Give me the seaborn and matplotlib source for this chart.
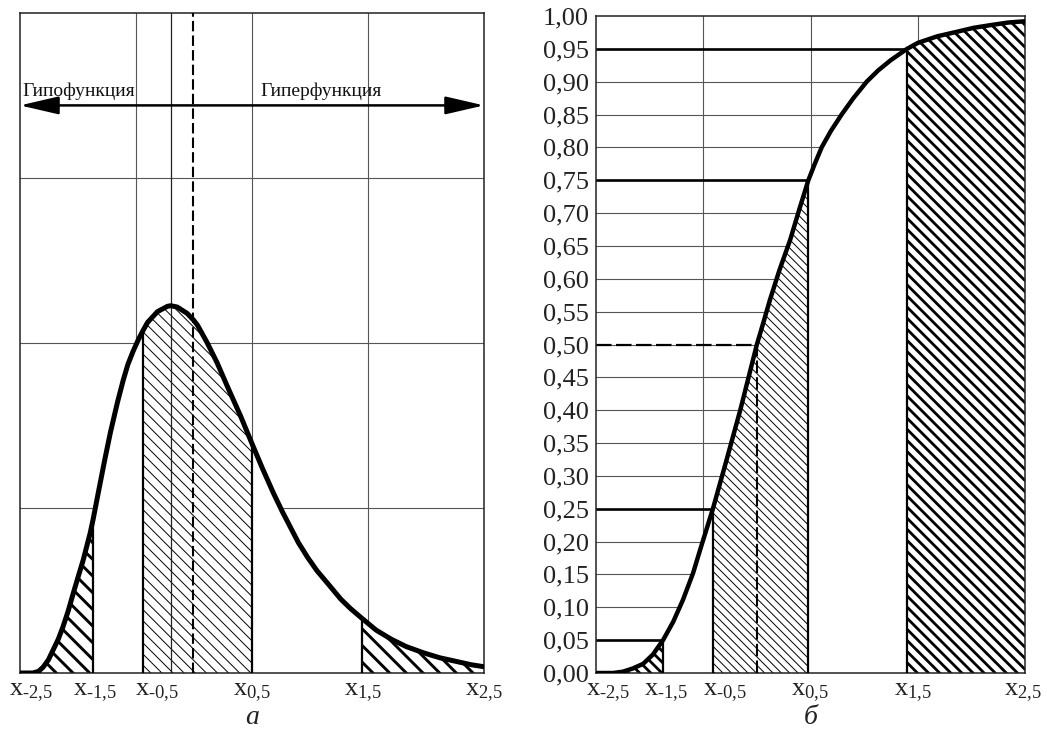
import numpy as np
import matplotlib
matplotlib.use("Agg")
import matplotlib.pyplot as plt
from matplotlib.transforms import ScaledTranslation
import seaborn as sns

# ---------------- data ----------------
# panel "а": probability density (x in grid-column units, y in grid-row units)
left_x = [0.00, 0.11, 0.16, 0.20, 0.245, 0.285, 0.33, 0.37, 0.415, 0.46, 0.50, 0.545,
          0.605, 0.63, 0.67, 0.73, 0.78, 0.84, 0.89, 0.93, 0.975, 1.02, 1.06, 1.10,
          1.185, 1.27, 1.30, 1.355, 1.44, 1.495, 1.53, 1.615, 1.70, 1.79, 1.90, 2.00,
          2.09, 2.185, 2.26, 2.33, 2.40, 2.48, 2.56, 2.65, 2.765, 2.85, 2.95, 3.07,
          3.20, 3.33, 3.48, 3.62, 3.775, 3.89, 4.00]
left_y = [0.000, 0.000, 0.010, 0.036, 0.080, 0.139, 0.205, 0.279, 0.375, 0.485, 0.580, 0.685,
          0.848, 0.930, 1.075, 1.290, 1.460, 1.640, 1.775, 1.870, 1.950, 2.020, 2.075, 2.125,
          2.190, 2.222, 2.226, 2.218, 2.180, 2.140, 2.108, 2.000, 1.879, 1.733, 1.560, 1.390,
          1.240, 1.090, 0.980, 0.885, 0.790, 0.700, 0.620, 0.545, 0.448, 0.390, 0.330, 0.260,
          0.205, 0.160, 0.122, 0.092, 0.068, 0.050, 0.038]

# panel "б": cumulative distribution
right_x = [0.00, 0.16, 0.25, 0.345, 0.44, 0.53, 0.625, 0.72, 0.81, 0.905, 0.97, 1.09,
           1.205, 1.345, 1.50, 1.567, 1.622, 1.71, 1.81, 1.90, 1.98, 2.04, 2.104, 2.19,
           2.29, 2.40, 2.524, 2.63, 2.75, 2.90, 3.00, 3.18, 3.366, 3.52, 3.675, 3.84, 4.00]
right_p = [0.000, 0.000, 0.002, 0.007, 0.014, 0.028, 0.050, 0.078, 0.111, 0.152, 0.187, 0.250,
           0.317, 0.400, 0.500, 0.537, 0.568, 0.613, 0.659, 0.708, 0.750, 0.775, 0.800, 0.825,
           0.850, 0.875, 0.900, 0.917, 0.933, 0.950, 0.959, 0.969, 0.976, 0.982, 0.986, 0.990,
           0.992]

# quantile positions (x_-2,5 ... x_2,5)
left_ticks = [0.00, 0.63, 1.06, 2.00, 2.95, 4.00]
right_ticks = [0.00, 0.625, 1.09, 1.98, 2.90, 4.00]
tick_labels = ["$\\mathrm{x}_{\u2010 2{,}5}$", "$\\mathrm{x}_{\u2010 1{,}5}$",
               "$\\mathrm{x}_{\u2010 0{,}5}$", "$\\mathrm{x}_{0{,}5}$",
               "$\\mathrm{x}_{1{,}5}$", "$\\mathrm{x}_{2{,}5}$"]
left_mode = 1.30
left_median = 1.495
right_median = 1.50
quantile_probs = [0.05, 0.25, 0.50, 0.75, 0.95]
thick_probs = [0.05, 0.25, 0.75, 0.95]

prob_ticks = [0.00, 0.05, 0.10, 0.15, 0.20, 0.25, 0.30, 0.35, 0.40, 0.45, 0.50,
              0.55, 0.60, 0.65, 0.70, 0.75, 0.80, 0.85, 0.90, 0.95, 1.00]
prob_labels = ["0,00", "0,05", "0,10", "0,15", "0,20", "0,25", "0,30", "0,35", "0,40",
               "0,45", "0,50", "0,55", "0,60", "0,65", "0,70", "0,75", "0,80", "0,85",
               "0,90", "0,95", "1,00"]
grid_cols = [1, 2, 3]
grid_rows_left = [1, 2, 3]

label_hypo = "Гипофункция"
label_hyper = "Гиперфункция"
caption_a = "а"
caption_b = "б"

# ---------------- style ----------------
sns.set_theme(style="white")
plt.rcParams["font.family"] = ["Liberation Serif", "DejaVu Serif"]
plt.rcParams["mathtext.fontset"] = "custom"
plt.rcParams["mathtext.rm"] = "Liberation Serif"
plt.rcParams["mathtext.it"] = "Liberation Serif:italic"
plt.rcParams["mathtext.bf"] = "Liberation Serif:bold"

W, H = 1047, 730
fig = plt.figure(figsize=(W / 100, H / 100), dpi=100)
fig.patch.set_facecolor("white")
axL = fig.add_axes([20 / W, (H - 673) / H, 464 / W, 660 / H])
axR = fig.add_axes([596 / W, (H - 673) / H, 429 / W, 657 / H])

GRID = "#555555"
SPINE = "#222222"


def hatched(ax, x, y, a, b, pattern, hlw, z=2):
    x = np.asarray(x)
    y = np.asarray(y)
    m = (x >= a - 1e-9) & (x <= b + 1e-9)
    with plt.rc_context({"hatch.linewidth": hlw, "hatch.color": "black"}):
        c = ax.fill_between(x[m], 0, y[m], facecolor="white", edgecolor="black",
                            hatch=pattern, linewidth=0, zorder=z)
    try:
        c.set_hatch_linewidth(hlw)
    except AttributeError:
        pass
    return c


for ax in (axL, axR):
    ax.set_facecolor("white")
    for s in ax.spines.values():
        s.set_visible(True)
        s.set_color(SPINE)
        s.set_linewidth(1.1)
    ax.tick_params(axis="both", length=0, labelsize=19, colors="#222222")

# ---------------- panel а ----------------
axL.set_xlim(0, 4)
axL.set_ylim(0, 4)
for gx in grid_cols:
    axL.axvline(gx, color=GRID, lw=0.8, zorder=0.8)
for gy in grid_rows_left:
    axL.axhline(gy, color=GRID, lw=0.8, zorder=0.8)
axL.fill_between(left_x, 0, left_y, color="white", lw=0, zorder=1)

hatched(axL, left_x, left_y, left_ticks[0], left_ticks[1], "\\\\", 2.1)
hatched(axL, left_x, left_y, left_ticks[2], left_ticks[3], "\\\\\\", 0.7)
hatched(axL, left_x, left_y, left_ticks[4], left_ticks[5], "\\\\", 2.1)

for t in left_ticks[1:5]:
    axL.vlines(t, 0, np.interp(t, left_x, left_y), color="black", lw=1.6, zorder=4)
axL.axvline(left_mode, color="#222222", lw=0.9, zorder=4)
axL.axvline(left_median, color="black", lw=1.5, ls=(0, (5.0, 2.0)), zorder=4)

sns.lineplot(x=left_x, y=left_y, ax=axL, color="black", linewidth=3.6, zorder=6,
             solid_joinstyle="round", solid_capstyle="round")

axL.annotate("", xy=(0, 3.44), xytext=(4, 3.44),
             arrowprops=dict(arrowstyle="<|-|>,head_length=0.95,head_width=0.22",
                             color="black", lw=1.8, shrinkA=0, shrinkB=0,
                             mutation_scale=25), zorder=5)
axL.text(0.02, 3.50, label_hypo, fontsize=14, va="baseline", ha="left", color="#111111")
axL.text(2.07, 3.50, label_hyper, fontsize=14, va="baseline", ha="left", color="#111111")

axL.set_xticks(left_ticks)
axL.set_xticklabels(tick_labels)
axL.set_yticks([])
axL.tick_params(axis="x", pad=6)
axL.set_xlabel("")
axL.set_ylabel("")

# ---------------- panel б ----------------
axR.set_xlim(0, 4)
axR.set_ylim(0, 1)
for gx in grid_cols:
    axR.axvline(gx, color=GRID, lw=0.8, zorder=0.8)
for p in prob_ticks[1:-1]:
    axR.axhline(p, color=GRID, lw=0.8, zorder=0.8)
for p in thick_probs:
    axR.axhline(p, color="black", lw=1.9, zorder=0.9)
axR.axhline(quantile_probs[2], color="black", lw=1.6, ls=(0, (7.0, 2.0)), zorder=0.9)
axR.fill_between(right_x, 0, right_p, color="white", lw=0, zorder=1)

hatched(axR, right_x, right_p, right_ticks[0], right_ticks[1], "\\\\\\", 2.0)
hatched(axR, right_x, right_p, right_ticks[2], right_ticks[3], "\\\\\\\\", 0.7)
hatched(axR, right_x, right_p, right_ticks[4], right_ticks[5], "\\\\\\", 2.0)

for t in right_ticks[1:5]:
    axR.vlines(t, 0, np.interp(t, right_x, right_p), color="black", lw=1.6, zorder=4)
axR.vlines(right_median, 0, quantile_probs[2], color="black", lw=1.5,
           linestyles=[(0, (6.0, 2.0))], zorder=4)

sns.lineplot(x=right_x, y=right_p, ax=axR, color="black", linewidth=3.2, zorder=6,
             solid_joinstyle="round", solid_capstyle="round")

axR.set_xticks(right_ticks)
axR.set_xticklabels(tick_labels)
axR.set_yticks(prob_ticks)
axR.set_yticklabels(prob_labels)
axR.tick_params(axis="x", pad=6)
axR.tick_params(axis="y", pad=5)
axR.set_xlabel("")
axR.set_ylabel("")

# small horizontal nudges of the x tick labels (pixels), as in the reference
left_nudge = [11, 2, 14, 0, 1, 0]
right_nudge = [12, 3, 12, 2, 6, -2]
for ax, nudges in ((axL, left_nudge), (axR, right_nudge)):
    for lab, dx in zip(ax.get_xticklabels(), nudges):
        lab.set_transform(lab.get_transform() + ScaledTranslation(dx / 100, 0, fig.dpi_scale_trans))

# captions
for ax, cap in ((axL, caption_a), (axR, caption_b)):
    pos = ax.get_position()
    fig.text((pos.x0 + pos.x1) / 2, 0.0, cap, fontsize=20, style="italic",
             ha="center", va="bottom", color="#222222")

fig.savefig("out.png", dpi=100, facecolor="white")
